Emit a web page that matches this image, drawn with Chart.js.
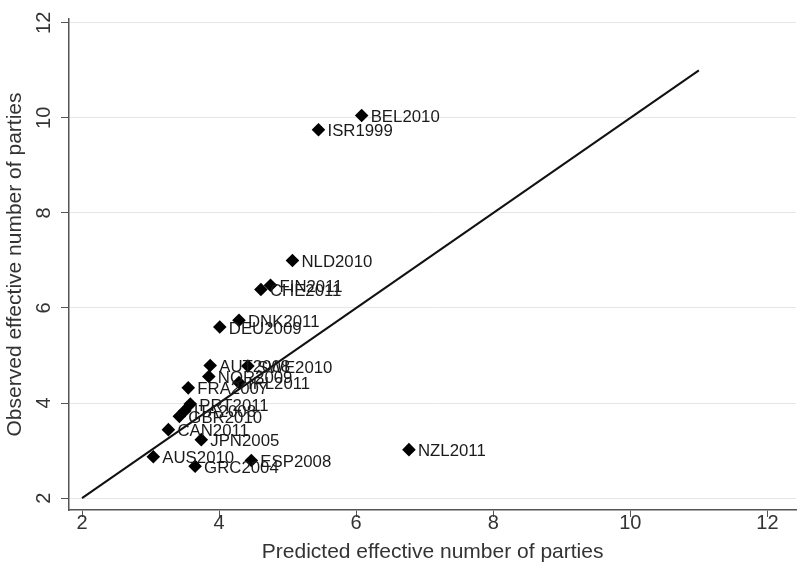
<!DOCTYPE html>
<html>
<head>
<meta charset="utf-8">
<script src="https://cdn.jsdelivr.net/npm/chart.js@4/dist/chart.umd.min.js"></script>
<style>
  html, body { margin: 0; padding: 0; background: #fff; }
  #wrap { width: 803px; height: 570px; position: relative; }
</style>
</head>
<body>
<div id="wrap"><canvas id="grafico"></canvas></div>
<script>
// country-election labels, predicted (x) and observed (y) effective number of parties
var paises = ["BEL2010", "ISR1999", "NLD2010", "FIN2011", "CHE2011", "DNK2011", "DEU2009",
  "AUT2008", "SWE2010", "NOR2009", "IRL2011", "FRA2007", "PRT2011", "ITA2008", "GBR2010",
  "CAN2011", "JPN2005", "AUS2010", "ESP2008", "GRC2004", "NZL2011"];
var previsto = [6.08, 5.45, 5.07, 4.75, 4.61, 4.29, 4.01,
  3.87, 4.42, 3.85, 4.29, 3.55, 3.58, 3.50, 3.42,
  3.26, 3.74, 3.04, 4.47, 3.65, 6.77];
var observado = [10.05, 9.75, 7.00, 6.48, 6.39, 5.74, 5.60,
  4.79, 4.78, 4.56, 4.43, 4.32, 3.98, 3.84, 3.72,
  3.44, 3.23, 2.87, 2.79, 2.67, 3.02];
// 45 degree reference line
var linhaX = [2, 11];
var linhaY = [2, 11];
var ticksEixo = [2, 4, 6, 8, 10, 12];

var pontos = previsto.map(function (v, i) { return { x: v, y: observado[i] }; });
var linha = linhaX.map(function (v, i) { return { x: v, y: linhaY[i] }; });

var familia = '"Liberation Sans", Arial, sans-serif';

// draws the country labels right of each marker, and the vertical y tick labels
var rotulos = {
  id: 'rotulos',
  afterDatasetsDraw: function (chart) {
    var ctx = chart.ctx;
    var meta = chart.getDatasetMeta(1);
    ctx.save();
    ctx.font = '16.8px ' + familia;
    ctx.fillStyle = '#1a1a1a';
    ctx.textBaseline = 'middle';
    meta.data.forEach(function (p, i) {
      ctx.fillText(paises[i], p.x + 9, p.y + 2);
    });
    ctx.restore();
  },
  afterDraw: function (chart) {
    var ctx = chart.ctx;
    var sy = chart.scales.y;
    ctx.save();
    ctx.font = '20px ' + familia;
    ctx.fillStyle = '#333';
    ctx.textAlign = 'center';
    ctx.textBaseline = 'middle';
    ticksEixo.forEach(function (v) {
      var py = sy.getPixelForValue(v);
      ctx.save();
      ctx.translate(44, py);
      ctx.rotate(-Math.PI / 2);
      ctx.fillText(String(v), 0, 0);
      ctx.restore();
    });
    ctx.restore();
  }
};

var fonteTick = { family: familia, size: 20 };
var fonteTitulo = { family: familia, size: 21 };

var ctx = document.getElementById('grafico').getContext('2d');
var grafico = new Chart(ctx, {
  type: 'scatter',
  data: {
    datasets: [{
      data: linha,
      showLine: true,
      borderColor: '#111',
      borderWidth: 2,
      pointRadius: 0
    }, {
      data: pontos,
      pointStyle: 'rectRot',
      pointRadius: 6.8,
      backgroundColor: '#000',
      borderColor: '#000',
      borderWidth: 0
    }]
  },
  options: {
    responsive: true,
    maintainAspectRatio: false,
    animation: false,
    layout: { padding: { top: 19, right: 3, left: 0, bottom: 0 } },
    plugins: { legend: { display: false }, tooltip: { enabled: false } },
    scales: {
      x: {
        type: 'linear',
        min: 1.81,
        max: 12.42,
        afterBuildTicks: function (s) { s.ticks = ticksEixo.map(function (v) { return { value: v }; }); },
        afterFit: function (s) { s.height = 60; },
        grid: { display: true, drawOnChartArea: false, color: '#555', tickColor: '#555', tickLength: 7 },
        border: { display: true, color: '#555', width: 1.5 },
        ticks: { color: '#333', font: fonteTick, padding: -6 },
        title: { display: true, text: 'Predicted effective number of parties', color: '#333', font: fonteTitulo, padding: { top: 0, bottom: 5 } }
      },
      y: {
        type: 'linear',
        min: 1.75,
        max: 12.08,
        afterBuildTicks: function (s) { s.ticks = ticksEixo.map(function (v) { return { value: v }; }); },
        afterFit: function (s) { s.width = 69; },
        grid: { color: '#e6e6e6', lineWidth: 1, tickColor: '#555', tickLength: 8 },
        border: { display: true, color: '#555', width: 1.5 },
        ticks: { display: false },
        title: { display: true, text: 'Observed effective number of parties', color: '#333', font: fonteTitulo, padding: { top: 3, bottom: 0 } }
      }
    }
  },
  plugins: [rotulos]
});
</script>
</body>
</html>
